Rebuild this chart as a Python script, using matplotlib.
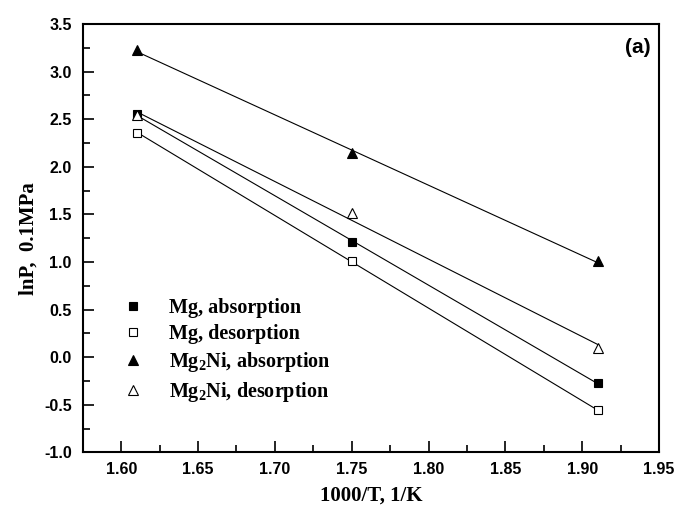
import numpy as np
import matplotlib
matplotlib.use("Agg")
import matplotlib.pyplot as plt
from matplotlib.ticker import MultipleLocator

# datos
x = [1.61, 1.75, 1.91]
mg_abs = [2.55, 1.21, -0.27]
mg_des = [2.36, 1.01, -0.56]
mg2ni_abs = [3.23, 2.14, 1.01]
mg2ni_des = [2.54, 1.51, 0.10]

labels = ["Mg, absorption", "Mg, desorption",
          r"Mg$_\mathbf{2}$Ni, absorption", r"Mg$_\mathbf{2}$Ni, desorption"]

plt.rcParams['mathtext.fontset'] = 'custom'
plt.rcParams['mathtext.bf'] = 'Liberation Serif:bold'
plt.rcParams['mathtext.rm'] = 'Liberation Serif:bold'

fig = plt.figure(figsize=(6.75, 5.09), dpi=100)
ax = fig.add_axes([0.1227, 0.1114, 0.8536, 0.8414])

series = [
    (mg_abs, 's', 'black', 5.5),
    (mg_des, 's', 'white', 5.5),
    (mg2ni_abs, '^', 'black', 7.5),
    (mg2ni_des, '^', 'white', 7.5),
]

xs = np.array(x)
for (ys, m, fc, ms), lab in zip(series, labels):
    # recta de ajuste
    k, b = np.polyfit(xs, ys, 1)
    ax.plot(xs, k * xs + b, color='black', lw=0.8)
    ax.plot(xs, ys, linestyle='none', marker=m, markerfacecolor=fc,
            markeredgecolor='black', markeredgewidth=0.8, markersize=ms, label=lab)

ax.set_xlim(1.575, 1.95)
ax.set_ylim(-1.0, 3.5)
ax.xaxis.set_minor_locator(MultipleLocator(0.025))
ax.yaxis.set_minor_locator(MultipleLocator(0.25))
ax.set_xticks(np.arange(1.60, 1.951, 0.05))
ax.set_xticklabels(['%.2f' % v for v in np.arange(1.60, 1.951, 0.05)],
                   fontfamily='Liberation Sans', fontweight='bold', fontsize=11.5)
ax.set_yticks(np.arange(-1.0, 3.51, 0.5))
ax.set_yticklabels(['%.1f' % v for v in np.arange(-1.0, 3.51, 0.5)],
                   fontfamily='Liberation Sans', fontweight='bold', fontsize=11.5)
ax.tick_params(which='both', direction='in', width=1.2)
ax.tick_params(which='major', length=8)
ax.tick_params(which='minor', length=5)
ax.tick_params(axis='x', pad=7)
ax.tick_params(axis='y', pad=8)
for s in ax.spines.values():
    s.set_linewidth(1.5)

ax.set_xlabel('1000/T, 1/K', fontfamily='Liberation Serif', fontweight='bold',
              fontsize=15, labelpad=6)
ax.set_ylabel('lnP,  0.1MPa', fontfamily='Liberation Serif', fontweight='bold',
              fontsize=15, labelpad=4)

ax.text(0.985, 0.945, '(a)', transform=ax.transAxes, ha='right', va='center',
        fontfamily='Liberation Sans', fontweight='bold', fontsize=15)

ax.legend(loc='lower left', bbox_to_anchor=(0.03, 0.07), frameon=False,
          prop={'family': 'Liberation Serif', 'weight': 'bold', 'size': 14.5},
          handlelength=1.5, handletextpad=1.0, labelspacing=0.3)

fig.savefig('out.png', dpi=100)
